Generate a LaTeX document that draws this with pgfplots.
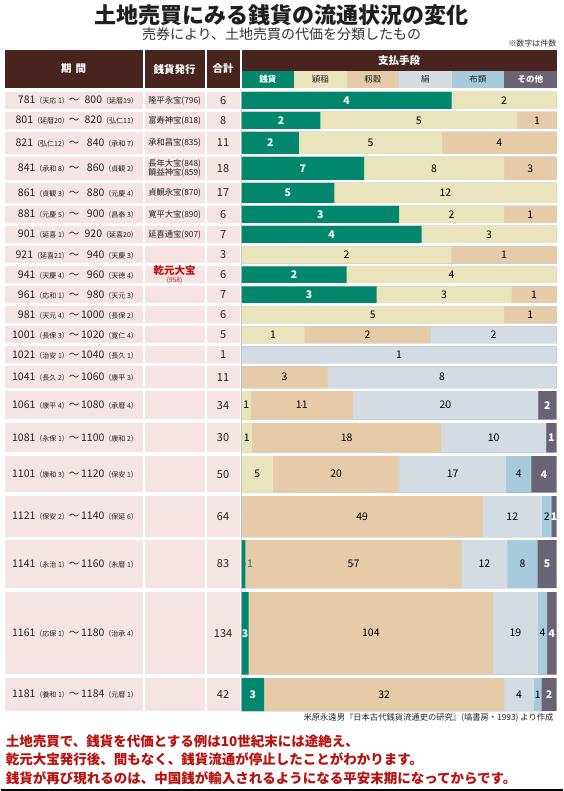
\documentclass[border=0pt]{standalone}
\usepackage{pgfplots}
\pgfplotsset{compat=1.18}
\usepackage{pgfplotstable}
\usepackage{fontspec}
\setmainfont{Noto Sans CJK JP}
\definecolor{hdr}{HTML}{48241E}
\definecolor{cSen}{HTML}{00876E}
\definecolor{cEi}{HTML}{E9E4BC}
\definecolor{cMo}{HTML}{E6CBA9}
\definecolor{cKi}{HTML}{D3DBE3}
\definecolor{cNu}{HTML}{A6CBDA}
\definecolor{cTa}{HTML}{6A6373}
\definecolor{cell}{HTML}{F5E4E3}
\definecolor{redt}{HTML}{B7120F}
\definecolor{txt}{HTML}{222222}

% top/bot = vertical extent of each row (px from top); gap lines have tot=0
\pgfplotstableread{
top   bot   tot sen ei  mo  ki  nu  ta
92    109   6   4   2   0   0   0   0
109   112   0   0   0   0   0   0   0
112   129   8   2   5   1   0   0   0
129   132   0   0   0   0   0   0   0
132   154   11  2   5   4   0   0   0
154   157   0   0   0   0   0   0   0
157   180   18  7   8   3   0   0   0
180   183   0   0   0   0   0   0   0
183   203   17  5   12  0   0   0   0
203   206   0   0   0   0   0   0   0
206   223   6   3   2   1   0   0   0
223   226   0   0   0   0   0   0   0
226   243   7   4   3   0   0   0   0
243   246.5 0   0   0   0   0   0   0
246.5 263.5 3   0   2   1   0   0   0
263.5 266.5 0   0   0   0   0   0   0
266.5 283   6   2   4   0   0   0   0
283   286.5 0   0   0   0   0   0   0
286.5 303   7   3   3   1   0   0   0
303   306.5 0   0   0   0   0   0   0
306.5 323   6   0   5   1   0   0   0
323   326.5 0   0   0   0   0   0   0
326.5 343   5   0   1   2   2   0   0
343   346.5 0   0   0   0   0   0   0
346.5 363   1   0   0   0   1   0   0
363   366.5 0   0   0   0   0   0   0
366.5 388   11  0   0   3   8   0   0
388   391   0   0   0   0   0   0   0
391   419.5 34  0   1   11  20  0   2
419.5 423   0   0   0   0   0   0   0
423   452.5 30  0   1   18  10  0   1
452.5 456   0   0   0   0   0   0   0
456   492.5 50  0   5   20  17  4   4
492.5 496   0   0   0   0   0   0   0
496   537   64  0   0   49  12  2   1
537   540   0   0   0   0   0   0   0
540   588   83  1   0   57  12  8   5
588   592   0   0   0   0   0   0   0
592   674.5 134 3   0   104 19  4   4
674.5 678   0   0   0   0   0   0   0
678   711   42  3   0   32  4   1   2
711   711   0   0   0   0   0   0   0
}\data

\newcommand{\fs}[1]{\fontsize{#1}{#1}\selectfont}
\newcommand{\era}[1]{{\fs{7}（#1）}}
\newcommand{\prow}[7]{%
  \node[anchor=east, inner sep=0pt, text=txt] at (79,#1) {\fs{10.5}#2\era{#3}～};
  \node[anchor=east, inner sep=0pt, text=txt] at (137.5,#1) {\fs{10.5}#4\era{#5}};
  \node[inner sep=0pt, text=txt] at (174,#1) {\fs{8.3}#6};
  \node[inner sep=0pt, text=txt] at (222.5,#1) {\fs{11}#7};
}

\pgfplotsset{
  lbl/.style={only marks, mark=*, mark size=0.1pt,
    mark options={draw=none, fill=none},
    nodes near coords,
    every node near coord/.append style={anchor=center, inner sep=0pt, font=\fs{10.5}, text=black}},
  wlbl/.style={lbl, every node near coord/.append style={text=white, font=\fs{10.5}\bfseries}},
}

\begin{document}
\begin{tikzpicture}
\begin{scope}[x=1pt, y=-1pt, yshift=791pt]
\fill[white] (0,0) rectangle (562,791);
% titles
\node[inner sep=0pt, text=black!88] at (281,15) {\fs{22}\bfseries 土地売買にみる銭貨の流通状況の変化};
\node[inner sep=0pt, text=black!80] at (281,34) {\fs{14}売券により、土地売買の代価を分類したもの};
\node[anchor=east, inner sep=0pt, text=black!80] at (556,43) {\fs{8}※数字は件数};
% header
\fill[hdr] (4,50) rectangle (142,88);
\fill[hdr] (144,50) rectangle (204,88);
\fill[hdr] (206,50) rectangle (239,88);
\fill[hdr] (241,50) rectangle (556,71);
\fill[cSen] (241,71) rectangle (293.5,88);
\fill[cEi] (293.5,71) rectangle (346,88);
\fill[cMo] (346,71) rectangle (398.5,88);
\fill[cKi] (398.5,71) rectangle (451,88);
\fill[cNu] (451,71) rectangle (503.5,88);
\fill[cTa] (503.5,71) rectangle (556,88);
\node[text=white, inner sep=0pt] at (73,69) {\fs{10.5}\bfseries 期\hspace{0.4em}間};
\node[text=white, inner sep=0pt] at (174,69) {\fs{10.5}\bfseries 銭貨発行};
\node[text=white, inner sep=0pt] at (222.5,69) {\fs{10.5}\bfseries 合計};
\node[text=white, inner sep=0pt] at (398.5,60.5) {\fs{10.5}\bfseries 支払手段};
\node[text=white, inner sep=0pt] at (267.25,79.5) {\fs{8.5}\bfseries 銭貨};
\node[text=txt, inner sep=0pt] at (319.75,79.5) {\fs{8.5}穎稲};
\node[text=txt, inner sep=0pt] at (372.25,79.5) {\fs{8.5}籾穀};
\node[text=txt, inner sep=0pt] at (424.75,79.5) {\fs{8.5}絹};
\node[text=txt, inner sep=0pt] at (477.25,79.5) {\fs{8.5}布類};
\node[text=white, inner sep=0pt] at (529.75,79.5) {\fs{8.5}\bfseries その他};
% row cells
\foreach \t/\b in {92/109,112/129,132/154,157/180,183/203,206/223,226/243,246.5/263.5,266.5/283,286.5/303,306.5/323,326.5/343,346.5/363,366.5/388,391/419.5,423/452.5,456/492.5,496/537,540/588,592/674.5,678/711}{
  \fill[cell] (4,\t) rectangle (142,\b);
  \fill[cell] (144,\t) rectangle (204,\b);
  \fill[cell] (206,\t) rectangle (239,\b);
}
\prow{100.5}{781}{天応 1}{800}{延暦19}{隆平永宝(796)}{6}
\prow{120.5}{801}{延暦20}{820}{弘仁11}{富寿神宝(818)}{8}
\prow{143}{821}{弘仁12}{840}{承和 7}{承和昌宝(835)}{11}
\prow{168.5}{841}{承和 8}{860}{貞観 2}{}{18}
\node[inner sep=0pt, text=txt, align=center, font=\fontsize{8.3}{9.5}\selectfont] at (174,168.5) {長年大宝(848)\\饒益神宝(859)};
\prow{193}{861}{貞観 3}{880}{元慶 4}{貞観永宝(870)}{17}
\prow{214.5}{881}{元慶 5}{900}{昌泰 3}{寛平大宝(890)}{6}
\prow{234.5}{901}{延喜 1}{920}{延喜20}{延喜通宝(907)}{7}
\prow{255}{921}{延喜21}{940}{天慶 3}{}{3}
\prow{274.75}{941}{天慶 4}{960}{天徳 4}{}{6}
\node[inner sep=0pt, text=redt] at (174,270.5) {\fs{10.5}\bfseries 乾元大宝};
\node[inner sep=0pt, text=redt] at (174,280.5) {\fs{6.5}(958)};
\prow{294.75}{961}{応和 1}{980}{天元 3}{}{7}
\prow{314.75}{981}{天元 4}{1000}{長保 2}{}{6}
\prow{334.75}{1001}{長保 3}{1020}{寛仁 4}{}{5}
\prow{354.75}{1021}{治安 1}{1040}{長久 1}{}{1}
\prow{377.25}{1041}{長久 2}{1060}{康平 3}{}{11}
\prow{405.25}{1061}{康平 4}{1080}{承暦 4}{}{34}
\prow{437.75}{1081}{永保 1}{1100}{康和 2}{}{30}
\prow{474.25}{1101}{康和 3}{1120}{保安 1}{}{50}
\prow{516.5}{1121}{保安 2}{1140}{保延 6}{}{64}
\prow{564}{1141}{永治 1}{1160}{永暦 1}{}{83}
\prow{633.25}{1161}{応保 1}{1180}{治承 4}{}{134}
\prow{694.5}{1181}{養和 1}{1184}{元暦 1}{}{42}
% footer
\node[anchor=east, inner sep=0pt, text=txt] at (553,717.5) {\fs{8.3}米原永遠男『日本古代銭貨流通史の研究』(塙書房・1993) より作成};
\node[anchor=west, inner sep=0pt, text=redt] at (5,741) {\fs{13.5}\bfseries 土地売買で、銭貨を代価とする例は10世紀末には途絶え、};
\node[anchor=west, inner sep=0pt, text=redt] at (5,759.5) {\fs{13.5}\bfseries 乾元大宝発行後、間もなく、銭貨流通が停止したことがわかります。};
\node[anchor=west, inner sep=0pt, text=redt] at (5,778) {\fs{13.5}\bfseries 銭貨が再び現れるのは、中国銭が輸入されるようになる平安末期になってからです。};
\draw[line width=1.2pt, black] (0,790) -- (562,790);
\end{scope}

\begin{axis}[at={(241pt,0pt)}, anchor=south west, scale only axis,
  width=315pt, height=791pt, xmin=0, xmax=1, ymin=0, ymax=791,
  y dir=reverse, hide axis, clip=false,
  /pgf/number format/assume math mode=true]
% cumulative shares, drawn from the widest to the narrowest
\addplot[xbar interval, fill=cTa, draw=none] table[y=top, x expr={(\thisrow{sen}+\thisrow{ei}+\thisrow{mo}+\thisrow{ki}+\thisrow{nu}+\thisrow{ta})/max(\thisrow{tot},1)}] {\data};
\addplot[xbar interval, fill=cNu, draw=none] table[y=top, x expr={(\thisrow{sen}+\thisrow{ei}+\thisrow{mo}+\thisrow{ki}+\thisrow{nu})/max(\thisrow{tot},1)}] {\data};
\addplot[xbar interval, fill=cKi, draw=none] table[y=top, x expr={(\thisrow{sen}+\thisrow{ei}+\thisrow{mo}+\thisrow{ki})/max(\thisrow{tot},1)}] {\data};
\addplot[xbar interval, fill=cMo, draw=none] table[y=top, x expr={(\thisrow{sen}+\thisrow{ei}+\thisrow{mo})/max(\thisrow{tot},1)}] {\data};
\addplot[xbar interval, fill=cEi, draw=none] table[y=top, x expr={(\thisrow{sen}+\thisrow{ei})/max(\thisrow{tot},1)}] {\data};
\addplot[xbar interval, fill=cSen, draw=none] table[y=top, x expr={\thisrow{sen}/max(\thisrow{tot},1)}] {\data};
% labels
\addplot[wlbl, point meta=\thisrow{sen}] table[y expr={(\thisrow{top}+\thisrow{bot})/2}, x expr={(\thisrow{sen}/2)/max(\thisrow{tot},1)}, restrict expr to domain={\thisrow{sen}/max(\thisrow{tot},1)}{0.015:2}] {\data};
\addplot[lbl, point meta=\thisrow{sen}, every node near coord/.append style={anchor=west, xshift=1.5pt, text=cSen}] table[y expr={(\thisrow{top}+\thisrow{bot})/2}, x expr={\thisrow{sen}/max(\thisrow{tot},1)}, restrict expr to domain={\thisrow{sen}/max(\thisrow{tot},1)}{0.001:0.015}] {\data};
\addplot[lbl, point meta=\thisrow{ei}] table[y expr={(\thisrow{top}+\thisrow{bot})/2}, x expr={(\thisrow{sen}+\thisrow{ei}/2)/max(\thisrow{tot},1)}, restrict expr to domain={\thisrow{ei}}{0.5:1000}] {\data};
\addplot[lbl, point meta=\thisrow{mo}] table[y expr={(\thisrow{top}+\thisrow{bot})/2}, x expr={(\thisrow{sen}+\thisrow{ei}+\thisrow{mo}/2)/max(\thisrow{tot},1)}, restrict expr to domain={\thisrow{mo}}{0.5:1000}] {\data};
\addplot[lbl, point meta=\thisrow{ki}] table[y expr={(\thisrow{top}+\thisrow{bot})/2}, x expr={(\thisrow{sen}+\thisrow{ei}+\thisrow{mo}+\thisrow{ki}/2)/max(\thisrow{tot},1)}, restrict expr to domain={\thisrow{ki}}{0.5:1000}] {\data};
\addplot[lbl, point meta=\thisrow{nu}] table[y expr={(\thisrow{top}+\thisrow{bot})/2}, x expr={(\thisrow{sen}+\thisrow{ei}+\thisrow{mo}+\thisrow{ki}+\thisrow{nu}/2)/max(\thisrow{tot},1)}, restrict expr to domain={\thisrow{nu}}{0.5:1000}] {\data};
\addplot[wlbl, point meta=\thisrow{ta}] table[y expr={(\thisrow{top}+\thisrow{bot})/2}, x expr={(\thisrow{sen}+\thisrow{ei}+\thisrow{mo}+\thisrow{ki}+\thisrow{nu}+\thisrow{ta}/2)/max(\thisrow{tot},1)}, restrict expr to domain={\thisrow{ta}}{0.5:1000}] {\data};
\end{axis}
\end{tikzpicture}
\end{document}
